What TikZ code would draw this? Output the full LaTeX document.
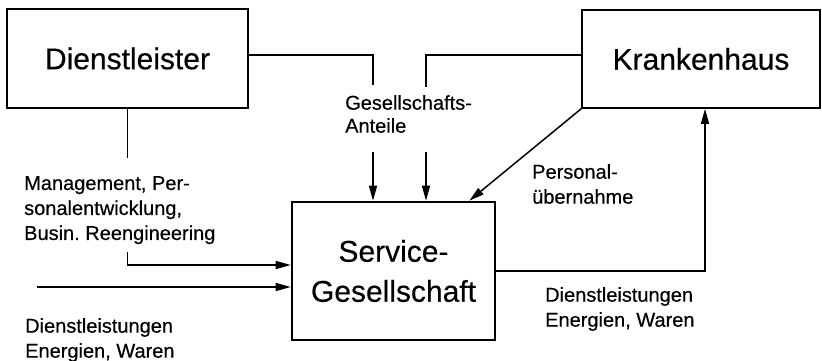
\documentclass[tikz,border=0pt]{standalone}
\usepackage{fontspec}
\setmainfont[FakeBold=0.4]{Liberation Sans}
\usetikzlibrary{arrows.meta,calc}

\tikzset{
  unitbox/.style={draw, line width=1.6pt, inner sep=0pt,
    font=\fontsize{30}{40}\selectfont, align=center},
  mainbox/.style={unitbox, line width=2.6pt},
  lbl/.style={anchor=north west, inner sep=0pt, align=left,
    font=\fontsize{20}{25}\selectfont},
  link/.style={line width=1.5pt},
  flow/.style={link, -{Triangle[length=15pt,width=8pt]}}
}

\begin{document}
\begin{tikzpicture}[x=1pt, y=-1pt]
  \useasboundingbox (0,0) rectangle (822,361);

  % organisational units
  \node[unitbox, minimum width=241pt, minimum height=99pt] (D) at (127.5,58.5) {Dienstleister};
  \node[unitbox, minimum width=238pt, minimum height=98pt] (K) at (701,59) {Krankenhaus};
  \node[mainbox, minimum width=203pt, minimum height=138pt] (S) at (393.5,271) {Service-\\Gesellschaft};

  % flow labels
  \node[lbl] (lG) at (345,95) {Gesellschafts-\\[-2pt]Anteile};
  \node[lbl] (lM) at (24,176) {Management, Per-\\sonalentwicklung,\\Busin.\ Reengineering};
  \node[lbl] (lP) at (532,164) {Personal-\\übernahme};
  \node[lbl] (lR) at (545,287) {Dienstleistungen\\Energien, Waren};
  \node[lbl] (lL) at (25,318) {Dienstleistungen\\Energien, Waren};

  % bend and break points of the connectors
  \coordinate (g1)  at (373,55);
  \coordinate (g1a) at (373,85);
  \coordinate (g1b) at (373,152);
  \coordinate (g2)  at (426,55);
  \coordinate (g2a) at (426,87);
  \coordinate (g2b) at (426,152);
  \coordinate (m1)  at (127.5,158);
  \coordinate (m2)  at (127.5,252);
  \coordinate (l1)  at (37,287);
  \coordinate (pEnd) at ($(S.north east)+(-27,0)$);

  % shares held in the service company
  \draw[link] (D.east |- g1) -- (g1) -- (g1a);
  \draw[flow] (g1b) -- (g1b |- S.north);
  \draw[link] (K.west |- g2) -- (g2) -- (g2a);
  \draw[flow] (g2b) -- (g2b |- S.north);

  % staff transfer from the hospital
  \draw[flow] (K.south west) -- (pEnd);

  % services delivered back to the hospital
  \draw[flow] (S.east) -| ($(K.south)+(4,0)$);

  % management services from the provider
  \draw[link] (D.south) -- (m1);
  \draw[flow] (m2) |- ($(S.west)+(0,-6)$);

  % external supplies
  \draw[flow] (l1) -- (l1 -| S.west);
\end{tikzpicture}
\end{document}
